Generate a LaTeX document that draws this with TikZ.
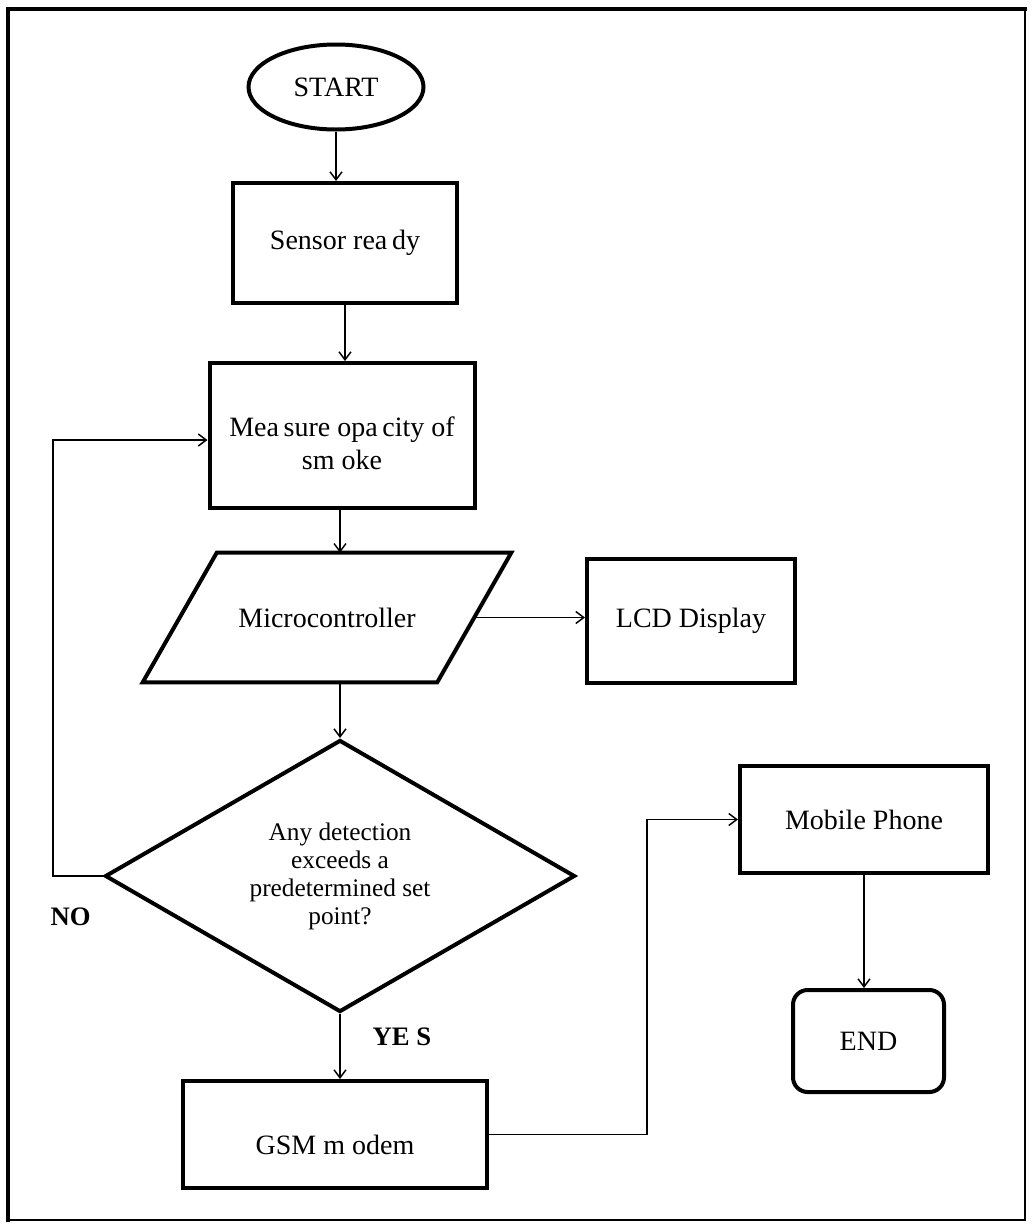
\documentclass[tikz,border=0pt]{standalone}
\usepackage{fontspec}
\setmainfont{Liberation Serif}
\usetikzlibrary{shapes.geometric,arrows.meta,calc}
\def\p{*0.75pt}
\begin{document}
\begin{tikzpicture}[x=0.75pt,y=-0.75pt,
  box/.style={draw, line width=3pt, inner sep=0pt, align=center, font=\fontsize{21}{24}\selectfont},
  arr/.style={line width=1.1pt, -{Straight Barb[length=6pt,width=9pt,line width=1.1pt]}},
  lbl/.style={font=\fontsize{20}{24}\selectfont\bfseries, inner sep=0pt}]
\useasboundingbox (0,0) rectangle (1032,1225);
\draw[line width=1.5pt] (1025,9) -- (1025,1220) -- (8,1220);
\draw[line width=3pt, line cap=rect] (8,1220) -- (8,9) -- (1025,9);

\node[box, ellipse, minimum width=175\p, minimum height=85\p] (start) at (336,87) {START};
\node[box, minimum width=224\p, minimum height=120\p] (sensor) at (345,243) {Sensor rea\,dy};
\node[box, minimum width=265\p, minimum height=145\p,
      label={[font=\fontsize{21}{24.75}\selectfont, align=center, yshift=-6pt]center:Mea\,sure opa\,city of\\sm oke}] (measure) at (342,435.5) {};
\node[inner sep=0pt, minimum width=368\p, minimum height=129\p, font=\fontsize{21}{24}\selectfont] (micro) at (327,617.5) {Microcontroller};
\draw[line width=3pt, line join=miter] ($(micro.north west)+(74,0)$) -- (micro.north east) -- ($(micro.south east)+(-74,0)$) -- (micro.south west) -- cycle;
\node[box, minimum width=208\p, minimum height=124\p] (lcd) at (691,621) {LCD Display};
\node[box, diamond, aspect=1.73, minimum width=470\p, minimum height=272\p, font=\fontsize{19}{21}\selectfont] (dia) at (340,876) {Any detection\\exceeds a\\predetermined set\\point?};
\node[box, minimum width=304\p, minimum height=107\p,
      label={[font=\fontsize{21}{24}\selectfont, yshift=-7.5pt]center:GSM m odem}] (gsm) at (335,1134.5) {};
\node[box, minimum width=248\p, minimum height=107\p] (mobile) at (864,819.5) {Mobile Phone};
\node[box, rounded corners=11pt, minimum width=151\p, minimum height=102\p] (end) at (868.5,1041) {END};

\node[lbl] (no) at (70.5,917) {NO};
\node[lbl] (yes) at (402,1037) {YE S};

\coordinate (micror) at ($(micro.east)+(-37,0)$);
\coordinate (nocorner) at (53,440);
\coordinate (gmcorner) at (647,819.5);

\draw[arr] (start.south) -- (start.south |- sensor.north);
\draw[arr] (sensor.south) -- (sensor.south |- measure.north);
\draw[arr] (measure.south -| dia.north) -- (micro.north -| dia.north);
\draw[arr] (micro.south -| dia.north) -- (dia.north);
\draw[arr] (micror) -- (micror -| lcd.west);
\draw[arr] (dia.west) -| (nocorner) -- (nocorner -| measure.west);
\draw[arr] (dia.south) -- (dia.south |- gsm.north);
\draw[arr] (gsm.east) -| (gmcorner) -- (mobile.west);
\draw[arr] (mobile.south) -- (mobile.south |- end.north);
\end{tikzpicture}
\end{document}
